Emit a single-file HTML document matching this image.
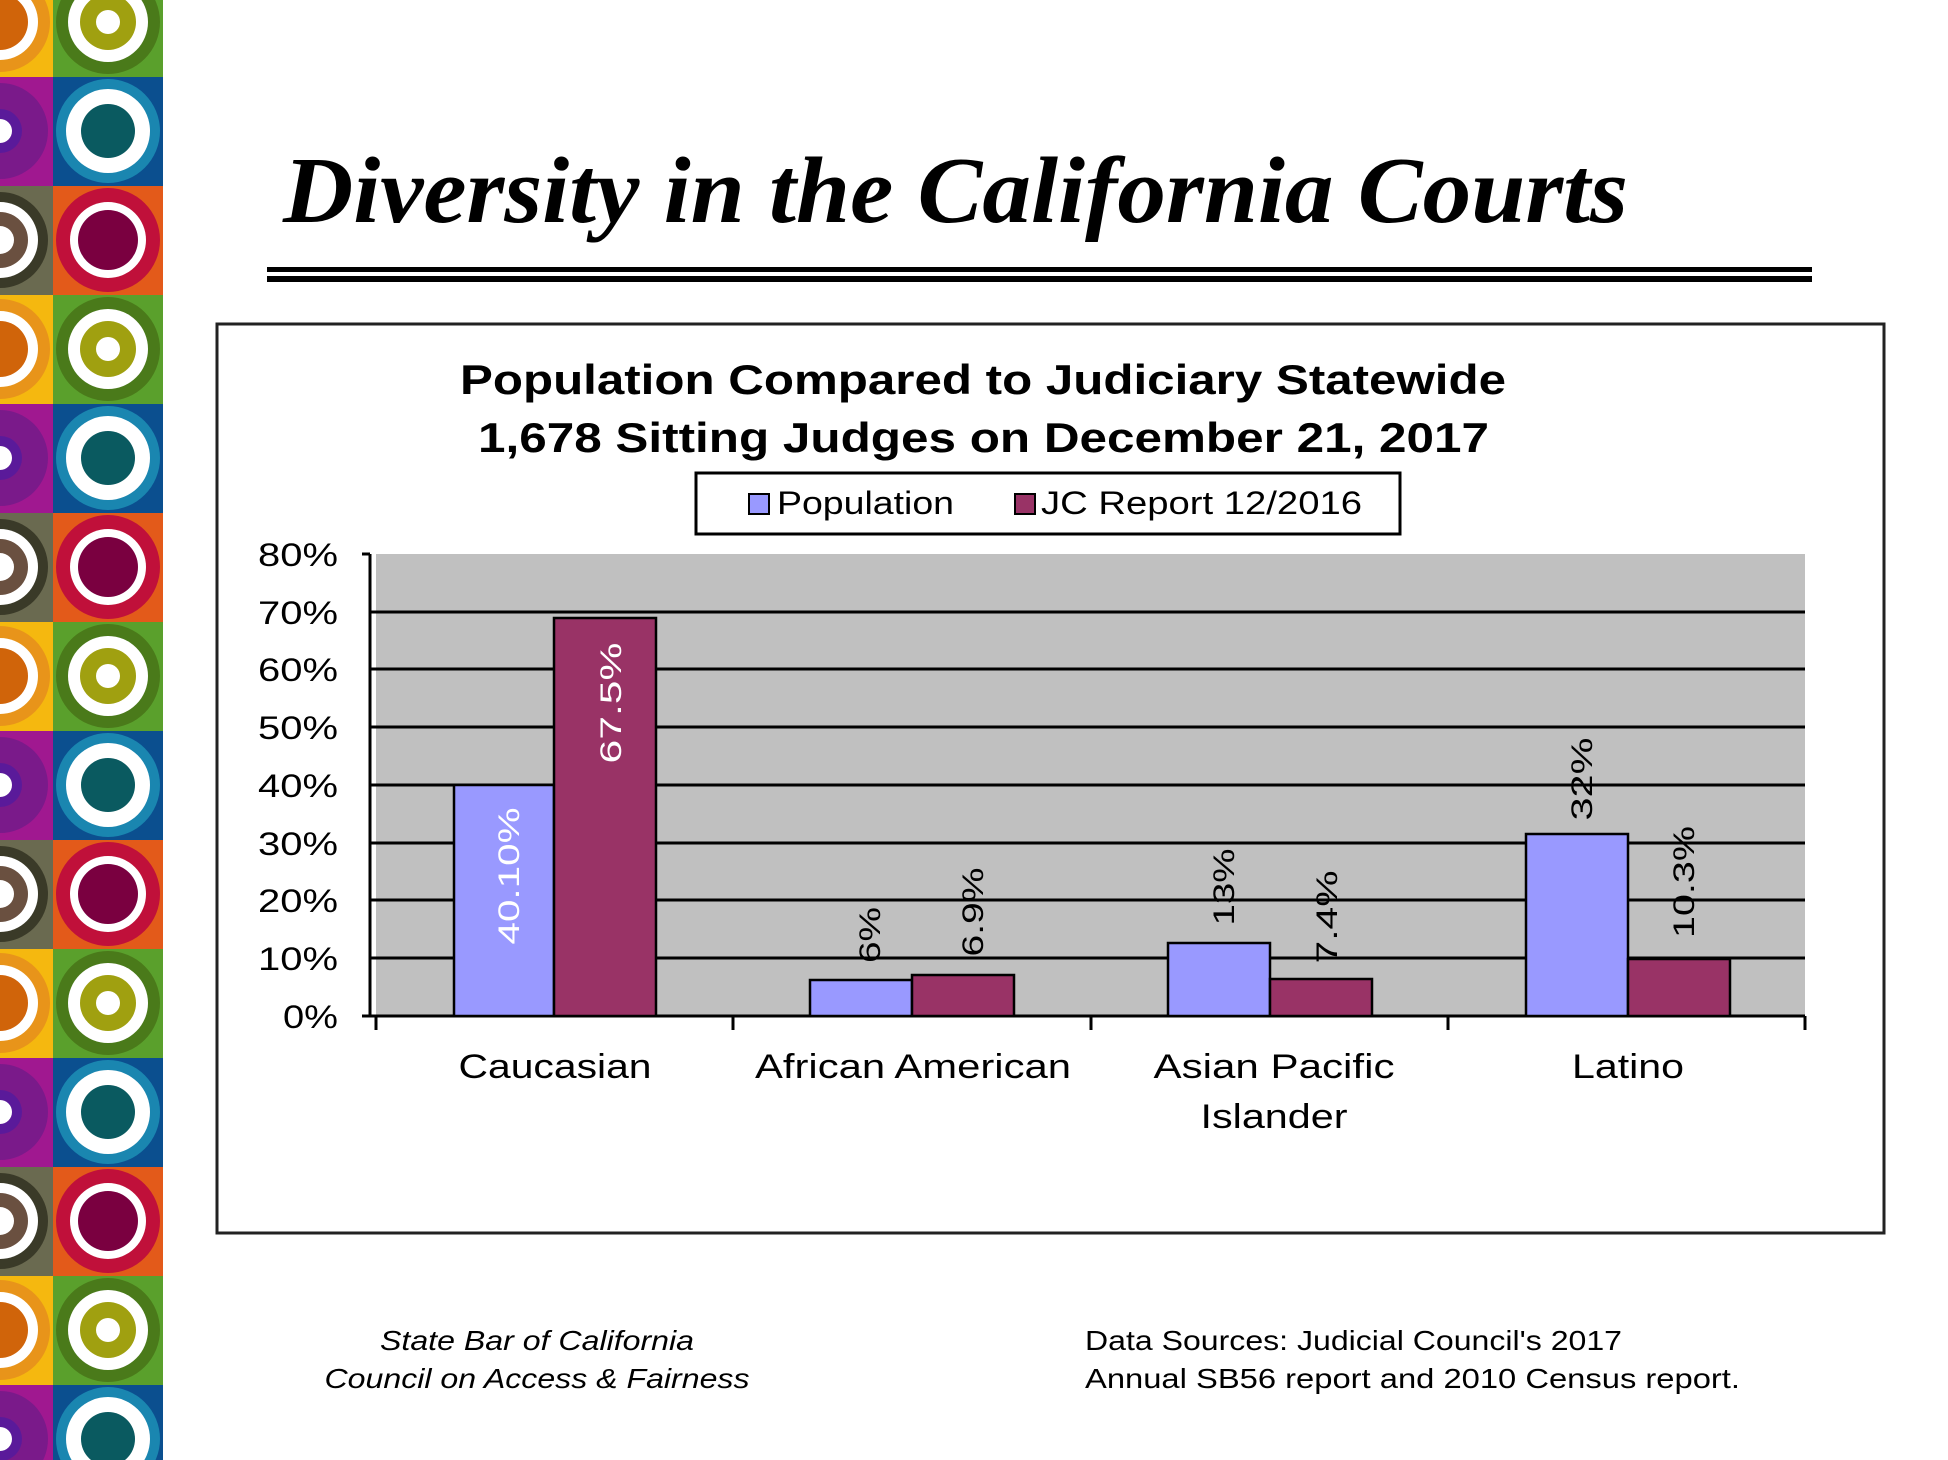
<!DOCTYPE html>
<html><head><meta charset="utf-8"><style>html,body{margin:0;padding:0;background:#fff}svg{display:block}</style></head>
<body>
<svg width="1948" height="1460" viewBox="0 0 1948 1460" xmlns="http://www.w3.org/2000/svg">
<defs>
<clipPath id="cl"><rect x="0" y="0" width="53" height="109"/></clipPath>
<g id="tg">
<rect x="0" y="0" width="53" height="109" fill="#f5b80f"/>
<g clip-path="url(#cl)"><circle cx="0" cy="54" r="50" fill="#e8941a"/><circle cx="0" cy="54" r="38" fill="#fff"/><circle cx="0" cy="54" r="28" fill="#d0640a"/></g>
<rect x="53" y="0" width="110" height="109" fill="#5aa02c"/>
<circle cx="108" cy="54" r="52" fill="#4a7a1a"/><circle cx="108" cy="54" r="40" fill="#fff"/><circle cx="108" cy="54" r="28" fill="#a0a010"/><circle cx="108" cy="54" r="12" fill="#fff"/>
</g>
<g id="tb">
<rect x="0" y="0" width="53" height="109" fill="#a01890"/>
<g clip-path="url(#cl)"><circle cx="0" cy="54" r="48" fill="#7a1a8a"/><circle cx="0" cy="54" r="22" fill="#5a1a9a"/><circle cx="0" cy="54" r="12" fill="#fff"/></g>
<rect x="53" y="0" width="110" height="109" fill="#0b4f8f"/>
<circle cx="108" cy="54" r="52" fill="#1a86b0"/><circle cx="108" cy="54" r="42" fill="#fff"/><circle cx="108" cy="54" r="27" fill="#0a5a60"/>
</g>
<g id="tr">
<rect x="0" y="0" width="53" height="109" fill="#6a6a50"/>
<g clip-path="url(#cl)"><circle cx="0" cy="54" r="48" fill="#3a3a28"/><circle cx="0" cy="54" r="38" fill="#fff"/><circle cx="0" cy="54" r="28" fill="#6a5040"/><circle cx="0" cy="54" r="14" fill="#fff"/></g>
<rect x="53" y="0" width="110" height="109" fill="#e35a1a"/>
<circle cx="108" cy="54" r="52" fill="#c0103a"/><circle cx="108" cy="54" r="38" fill="#fff"/><circle cx="108" cy="54" r="30" fill="#7a0040"/>
</g>
</defs>
<use href="#tg" y="-32"/><use href="#tb" y="77"/><use href="#tr" y="186"/>
<use href="#tg" y="295"/><use href="#tb" y="404"/><use href="#tr" y="513"/>
<use href="#tg" y="622"/><use href="#tb" y="731"/><use href="#tr" y="840"/>
<use href="#tg" y="949"/><use href="#tb" y="1058"/><use href="#tr" y="1167"/>
<use href="#tg" y="1276"/><use href="#tb" y="1385"/>

<text x="283" y="222" font-family="Liberation Serif, serif" font-weight="bold" font-style="italic" font-size="94" textLength="1345" lengthAdjust="spacingAndGlyphs">Diversity in the California Courts</text>
<rect x="267" y="267" width="1545" height="5" fill="#000"/>
<rect x="267" y="276" width="1545" height="6" fill="#000"/>

<rect x="217" y="324" width="1667" height="909" fill="#fff" stroke="#222" stroke-width="3"/>
<g font-family="Liberation Sans, sans-serif" font-weight="bold" font-size="42" fill="#000">
<text x="460" y="394" textLength="1046" lengthAdjust="spacingAndGlyphs">Population  Compared  to  Judiciary  Statewide</text>
<text x="478" y="452" textLength="1011" lengthAdjust="spacingAndGlyphs">1,678  Sitting  Judges  on  December  21, 2017</text>
</g>
<rect x="696" y="473" width="704" height="61" fill="#fff" stroke="#000" stroke-width="3"/>
<rect x="749" y="494" width="20" height="20" fill="#9999ff" stroke="#000" stroke-width="2"/>
<rect x="1015" y="494" width="20" height="20" fill="#993366" stroke="#000" stroke-width="2"/>
<g font-family="Liberation Sans, sans-serif" font-size="32" fill="#000">
<text x="777" y="514" textLength="177" lengthAdjust="spacingAndGlyphs">Population</text>
<text x="1041" y="514" textLength="321" lengthAdjust="spacingAndGlyphs">JC Report 12/2016</text>
</g>

<rect x="376" y="554" width="1429" height="462" fill="#c0c0c0"/>
<g stroke="#000" stroke-width="3">
<line x1="370" y1="958" x2="1805" y2="958"/><line x1="370" y1="900" x2="1805" y2="900"/>
<line x1="370" y1="843" x2="1805" y2="843"/><line x1="370" y1="785" x2="1805" y2="785"/>
<line x1="370" y1="727" x2="1805" y2="727"/><line x1="370" y1="669" x2="1805" y2="669"/>
<line x1="370" y1="612" x2="1805" y2="612"/>
<line x1="362" y1="554" x2="370" y2="554"/>
<line x1="370" y1="554" x2="370" y2="1016"/>
<line x1="362" y1="1016" x2="1805" y2="1016"/>
<line x1="376" y1="1016" x2="376" y2="1030"/><line x1="733" y1="1016" x2="733" y2="1030"/>
<line x1="1091" y1="1016" x2="1091" y2="1030"/><line x1="1448" y1="1016" x2="1448" y2="1030"/>
<line x1="1805" y1="1016" x2="1805" y2="1030"/>
</g>
<g stroke="#000" stroke-width="2.5">
<rect x="454" y="785" width="100" height="231" fill="#9999ff"/>
<rect x="554" y="618" width="102" height="398" fill="#993366"/>
<rect x="810" y="980" width="102" height="36" fill="#9999ff"/>
<rect x="912" y="975" width="102" height="41" fill="#993366"/>
<rect x="1168" y="943" width="102" height="73" fill="#9999ff"/>
<rect x="1270" y="979" width="102" height="37" fill="#993366"/>
<rect x="1526" y="834" width="102" height="182" fill="#9999ff"/>
<rect x="1628" y="959" width="102" height="57" fill="#993366"/>
</g>
<g font-family="Liberation Sans, sans-serif" font-size="32" fill="#000" text-anchor="end">
<text x="338" y="566" textLength="80" lengthAdjust="spacingAndGlyphs">80%</text>
<text x="338" y="624" textLength="80" lengthAdjust="spacingAndGlyphs">70%</text>
<text x="338" y="681" textLength="80" lengthAdjust="spacingAndGlyphs">60%</text>
<text x="338" y="739" textLength="80" lengthAdjust="spacingAndGlyphs">50%</text>
<text x="338" y="797" textLength="80" lengthAdjust="spacingAndGlyphs">40%</text>
<text x="338" y="855" textLength="80" lengthAdjust="spacingAndGlyphs">30%</text>
<text x="338" y="912" textLength="80" lengthAdjust="spacingAndGlyphs">20%</text>
<text x="338" y="970" textLength="80" lengthAdjust="spacingAndGlyphs">10%</text>
<text x="338" y="1028" textLength="55" lengthAdjust="spacingAndGlyphs">0%</text>
</g>
<g font-family="Liberation Sans, sans-serif" font-size="30" text-anchor="middle">
<text transform="translate(519,876) rotate(-90)" fill="#fff" textLength="137" lengthAdjust="spacingAndGlyphs">40.10%</text>
<text transform="translate(621,703) rotate(-90)" fill="#fff" textLength="121" lengthAdjust="spacingAndGlyphs">67.5%</text>
<text transform="translate(880,935) rotate(-90)" fill="#000" textLength="56" lengthAdjust="spacingAndGlyphs">6%</text>
<text transform="translate(983,912) rotate(-90)" fill="#000" textLength="89" lengthAdjust="spacingAndGlyphs">6.9%</text>
<text transform="translate(1234,887) rotate(-90)" fill="#000" textLength="77" lengthAdjust="spacingAndGlyphs">13%</text>
<text transform="translate(1337,917) rotate(-90)" fill="#000" textLength="93" lengthAdjust="spacingAndGlyphs">7.4%</text>
<text transform="translate(1592,779) rotate(-90)" fill="#000" textLength="83" lengthAdjust="spacingAndGlyphs">32%</text>
<text transform="translate(1694,882) rotate(-90)" fill="#000" textLength="112" lengthAdjust="spacingAndGlyphs">10.3%</text>
</g>
<g font-family="Liberation Sans, sans-serif" font-size="34" fill="#000" text-anchor="middle">
<text x="555" y="1078" textLength="193" lengthAdjust="spacingAndGlyphs">Caucasian</text>
<text x="913" y="1078" textLength="316" lengthAdjust="spacingAndGlyphs">African American</text>
<text x="1274" y="1078" textLength="241" lengthAdjust="spacingAndGlyphs">Asian Pacific</text>
<text x="1274" y="1128" textLength="147" lengthAdjust="spacingAndGlyphs">Islander</text>
<text x="1628" y="1078" textLength="112" lengthAdjust="spacingAndGlyphs">Latino</text>
</g>
<g font-family="Liberation Sans, sans-serif" font-size="28" fill="#000">
<text x="537" y="1350" text-anchor="middle" font-style="italic" textLength="314" lengthAdjust="spacingAndGlyphs">State  Bar of California</text>
<text x="537" y="1388" text-anchor="middle" font-style="italic" textLength="425" lengthAdjust="spacingAndGlyphs">Council on Access &amp; Fairness</text>
<text x="1085" y="1350" textLength="537" lengthAdjust="spacingAndGlyphs">Data Sources:  Judicial Council's 2017</text>
<text x="1085" y="1388" textLength="655" lengthAdjust="spacingAndGlyphs">Annual   SB56  report and  2010  Census  report.</text>
</g>
</svg>
</body></html>
